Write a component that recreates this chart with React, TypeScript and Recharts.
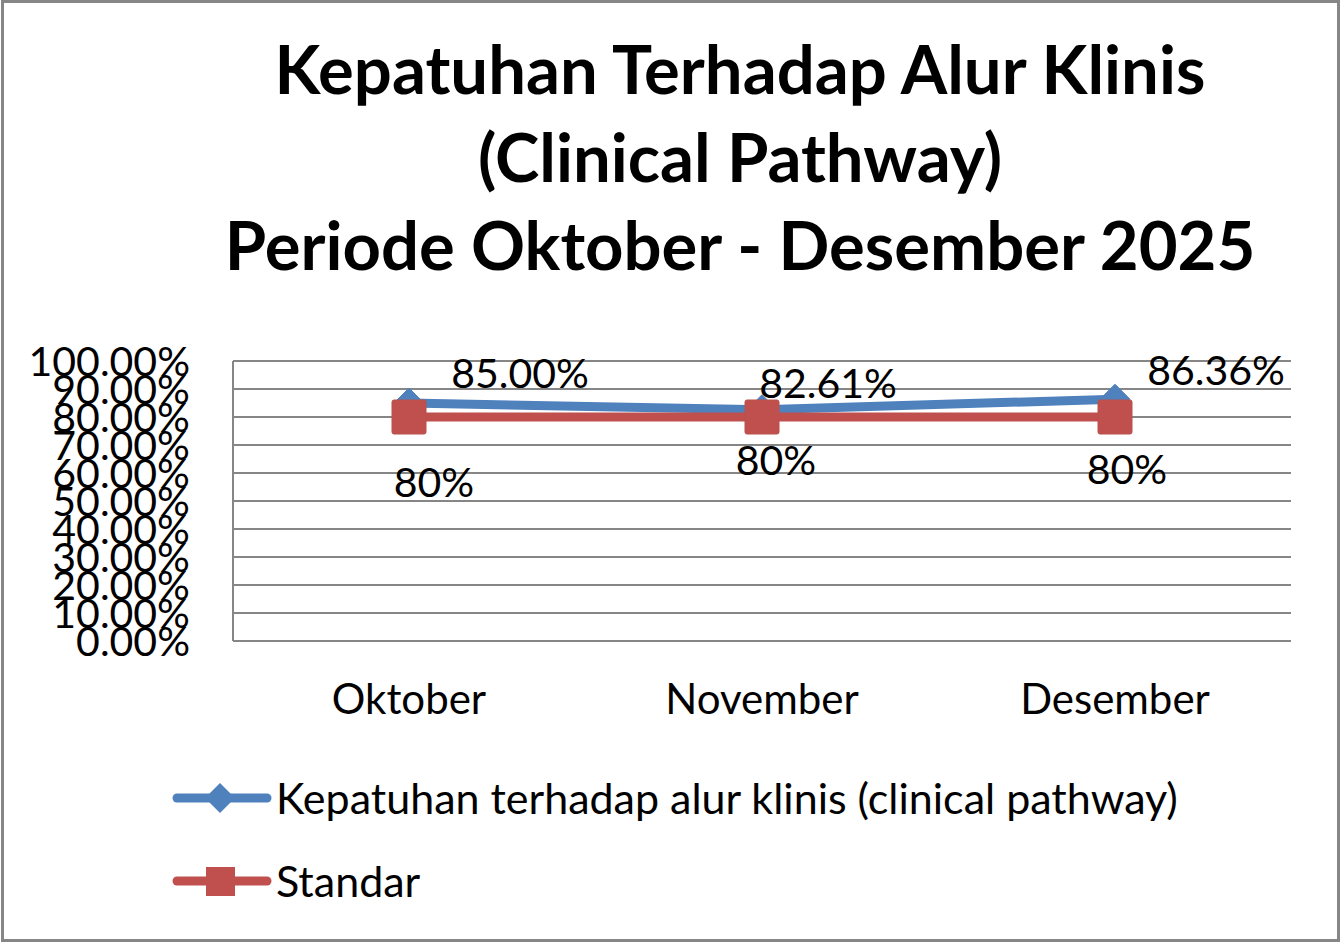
import React from "react";
import { LineChart, Line, XAxis, YAxis, CartesianGrid, Legend, LabelList } from "recharts";

const months = ["Oktober", "November", "Desember"];
const compliance = [0.85, 0.8261, 0.8636];
const standard = [0.8, 0.8, 0.8];
const complianceLabels = ["85.00%", "82.61%", "86.36%"];
const standardLabels = ["80%", "80%", "80%"];
const yTicks = [0, 0.1, 0.2, 0.3, 0.4, 0.5, 0.6, 0.7, 0.8, 0.9, 1];

const seriesNames = {
    compliance: "Kepatuhan terhadap alur klinis (clinical pathway)",
    standard: "Standar",
};

const data = months.map((month, i) => ({
    month,
    compliance: compliance[i],
    standard: standard[i],
}));

// label offsets from the point (they were dragged by hand in the original)
const complianceOffsets = [[111, -31], [66, -27], [101, -30]];
const standardOffsets = [[25, 64], [14, 42], [12, 51]];

const BLUE = "#4F81BD";
const RED = "#C0504D";
const GRID = "#868686";
const FONT = "Lato, 'Noto Sans', sans-serif";

const Diamond = (props: any) => {
    const { cx, cy } = props;
    if (cx == null || cy == null) return null;
    const r = 15;
    return (
        <polygon
            points={`${cx},${cy - r} ${cx + r},${cy} ${cx},${cy + r} ${cx - r},${cy}`}
            fill={BLUE}
            stroke={BLUE}
        />
    );
};

const Square = (props: any) => {
    const { cx, cy } = props;
    if (cx == null || cy == null) return null;
    const h = 17;
    return <rect x={cx - h} y={cy - h} width={h * 2} height={h * 2} rx={2} fill={RED} stroke="#B9504D" />;
};

const makeLabel = (texts: string[], offsets: number[][]) => (props: any) => {
    const { x, y, index } = props;
    const [dx, dy] = offsets[index];
    return (
        <text
            x={x + dx}
            y={y + dy}
            textAnchor="middle"
            dominantBaseline="central"
            fontSize={41}
            fontFamily={FONT}
            fill="#000"
        >
            {texts[index]}
        </text>
    );
};

const renderLegend = (props: any) => {
    const { payload } = props;
    return (
        <div style={{ display: "flex", flexDirection: "column" }}>
            {payload.map((entry: any) => (
                <div key={entry.dataKey} style={{ display: "flex", alignItems: "center", height: 83 }}>
                    <svg width={100} height={40}>
                        <line x1={5} y1={20} x2={95} y2={20} stroke={entry.color} strokeWidth={9} strokeLinecap="round" />
                        {entry.dataKey === "compliance" ? (
                            <polygon points="48,5 63,20 48,35 33,20" fill={entry.color} />
                        ) : (
                            <rect x={34} y={6} width={29} height={29} fill={entry.color} />
                        )}
                    </svg>
                    <span style={{ fontSize: 43, fontFamily: FONT, color: "#000", marginLeft: 4 }}>
                        {entry.value}
                    </span>
                </div>
            ))}
        </div>
    );
};

export default function App() {
    return (
        <div
            style={{
                position: "fixed",
                left: 0,
                top: 0,
                width: 1343,
                height: 944,
                background: "#fff",
            }}
        >
            <div
                style={{
                    position: "absolute",
                    left: 1,
                    top: 0,
                    width: 1339,
                    height: 942,
                    border: `3px solid ${GRID}`,
                    boxSizing: "border-box",
                }}
            />
            <div
                style={{
                    position: "absolute",
                    left: 140,
                    top: 24,
                    width: 1200,
                    textAlign: "center",
                    fontFamily: FONT,
                    fontWeight: 700,
                    fontSize: 67,
                    lineHeight: "88px",
                    color: "#000",
                }}
            >
                Kepatuhan Terhadap Alur Klinis
                <br />
                (Clinical Pathway)
                <br />
                Periode Oktober - Desember 2025
            </div>
            <LineChart
                width={1343}
                height={944}
                data={data}
                margin={{ top: 361, right: 52, bottom: 33, left: 0 }}
            >
                <CartesianGrid vertical={false} stroke={GRID} strokeWidth={2} />
                <XAxis
                    dataKey="month"
                    padding={{ left: 176, right: 176 }}
                    axisLine={{ stroke: GRID, strokeWidth: 2 }}
                    tickLine={false}
                    tickSize={0}
                    tickMargin={43}
                    height={100}
                    tick={{ fontSize: 42, fontFamily: FONT, fill: "#000" }}
                />
                <YAxis
                    domain={[0, 1]}
                    ticks={yTicks}
                    width={233}
                    axisLine={{ stroke: GRID, strokeWidth: 2 }}
                    tickLine={false}
                    tickSize={0}
                    tickMargin={43}
                    tickFormatter={(v: number) => `${(v * 100).toFixed(2)}%`}
                    tick={{ fontSize: 41, fontFamily: FONT, fill: "#000" }}
                    interval={0}
                />
                <Legend
                    layout="horizontal"
                    verticalAlign="bottom"
                    align="left"
                    content={renderLegend}
                    wrapperStyle={{ left: 172, top: 756, height: 170, width: 1150 }}
                />
                <Line
                    dataKey="compliance"
                    name={seriesNames.compliance}
                    stroke={BLUE}
                    strokeWidth={9}
                    dot={<Diamond />}
                    activeDot={false}
                    isAnimationActive={false}
                >
                    <LabelList dataKey="compliance" content={makeLabel(complianceLabels, complianceOffsets)} />
                </Line>
                <Line
                    dataKey="standard"
                    name={seriesNames.standard}
                    stroke={RED}
                    strokeWidth={9}
                    dot={<Square />}
                    activeDot={false}
                    isAnimationActive={false}
                >
                    <LabelList dataKey="standard" content={makeLabel(standardLabels, standardOffsets)} />
                </Line>
            </LineChart>
        </div>
    );
}
